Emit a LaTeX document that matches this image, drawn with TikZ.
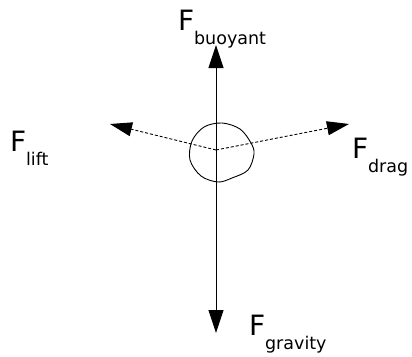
\documentclass[tikz,border=0pt]{standalone}
\usepackage{fontspec}
\setmainfont{DejaVu Sans}
\usetikzlibrary{arrows.meta}
\begin{document}
\begin{tikzpicture}[x=1pt,y=-1pt,
  force/.style={line width=0.9pt,-{Triangle[length=23pt,width=15pt]}},
  dforce/.style={line width=0.9pt,dash pattern=on 3pt off 2pt,-{Triangle[length=22pt,width=14pt]}},
  lbl/.style={anchor=base west,inner sep=0pt,outer sep=0pt},
  body/.style={line width=0.9pt}]
\useasboundingbox (0,0) rectangle (412,356);
\clip (0,0) rectangle (412,356);
\coordinate (c) at (216,150);
\coordinate (top) at (216,45);
\coordinate (bot) at (216,333);
\coordinate (lt) at (110,124);
\coordinate (rt) at (349,124);
% particle
\draw[body] plot[smooth cycle,tension=0.55] coordinates
  {(222,123) (240,129) (251,143) (254,154) (248,170) (232,178) (218,182) (201,176) (190,160) (192,141) (204,127)};
% forces
\draw[force] (c) -- (top);
\draw[force] (c) -- (bot);
\draw[dforce] (c) -- (lt);
\draw[dforce] (c) -- (rt);
% labels
\newcommand{\flab}[1]{{\fontsize{28}{28}\selectfont F}\raisebox{-14pt}{\fontsize{17.5}{17.5}\selectfont #1}}
\node[lbl] (lb) at (178,30) {\flab{buoyant}};
\node[lbl] (ll) at (10,151) {\flab{lift}};
\node[lbl] (ld) at (352,158) {\flab{drag}};
\node[lbl] (lg) at (249,335) {\flab{gravity}};
\end{tikzpicture}
\end{document}
